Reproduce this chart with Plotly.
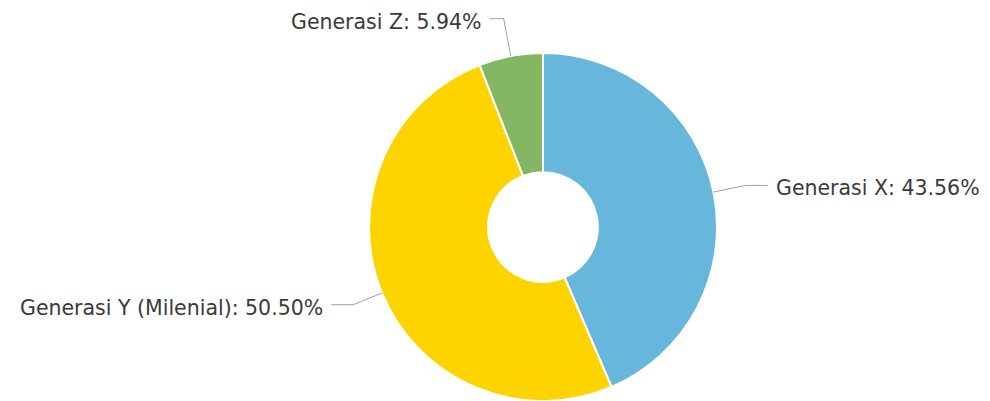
import math
import plotly.graph_objects as go

# ---- data ----
labels = ["Generasi X", "Generasi Y (Milenial)", "Generasi Z"]
values = [43.56, 50.50, 5.94]
colors = ["#67b7dc", "#fdd400", "#84b761"]

# ---- layout constants (pixels, in window coordinates) ----
PAGE = 8                   # default body margin of the html page
W, H = 990 - PAGE, 401 - PAGE
CX, CY = 543 - PAGE, 227 - PAGE   # pie centre inside the figure
R = 174                    # outer radius
HOLE = 0.315
RADIAL = [33, 31, 38]      # leader radial length per slice
HORIZ = [22, 22, 14]       # leader horizontal length per slice
GAP = 6
FONT = "DejaVu Sans, Verdana, sans-serif"
TEXT_COLOR = "#3a3a3a"

fig = go.Figure(go.Pie(
    labels=labels,
    values=values,
    marker=dict(colors=colors, line=dict(color="white", width=2)),
    hole=HOLE,
    sort=False,
    direction="clockwise",
    rotation=0,
    textinfo="none",
    hoverinfo="skip",
    showlegend=False,
    domain=dict(x=[(CX - R) / W, (CX + R) / W],
                y=[max(0, (H - CY - R) / H), min(1, (H - CY + R) / H)]),
))

def px(x):
    return x / W

def py(y):
    return 1 - y / H

total = sum(values)
cum = 0.0
for i, (lab, v) in enumerate(zip(labels, values)):
    mid = (cum + v / 2) / total * 2 * math.pi
    cum += v
    sx, sy = math.sin(mid), -math.cos(mid)
    x0, y0 = CX + R * sx, CY + R * sy
    x1, y1 = CX + (R + RADIAL[i]) * sx, CY + (R + RADIAL[i]) * sy
    side = 1 if sx >= 0 else -1
    x2, y2 = x1 + side * HORIZ[i], y1
    fig.add_shape(type="path",
                  path=f"M {px(x0)},{py(y0)} L {px(x1)},{py(y1)} L {px(x2)},{py(y2)}",
                  xref="paper", yref="paper",
                  line=dict(color="#a0a0a0", width=1))
    pct = v / total * 100
    fig.add_annotation(x=px(x2 + side * GAP), y=py(y2 + 3), xref="paper", yref="paper",
                       text=f"{lab}: {pct:.2f}%", showarrow=False,
                       xanchor="left" if side > 0 else "right", yanchor="middle",
                       font=dict(family=FONT, size=20.5, color=TEXT_COLOR))

fig.update_layout(width=W, height=H, margin=dict(l=0, r=0, t=0, b=0),
                  paper_bgcolor="white", plot_bgcolor="white")

fig.write_html("out.html")
